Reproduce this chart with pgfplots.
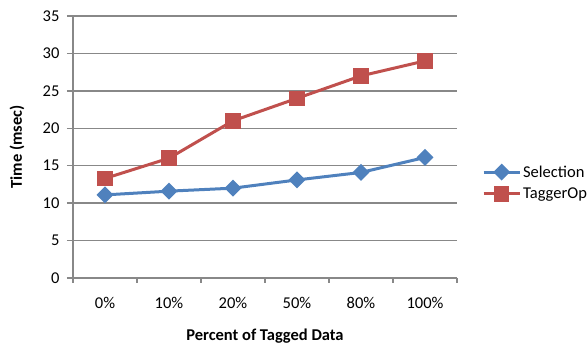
\documentclass[border=0pt]{standalone}
\usepackage{pgfplots}
\pgfplotsset{compat=1.18}
\usepackage{fontspec}
\setmainfont{Carlito}

\definecolor{selblue}{HTML}{4F81BD}
\definecolor{tagred}{HTML}{C0504D}
\definecolor{axgray}{HTML}{888888}

\begin{document}
\begin{tikzpicture}
\path[use as bounding box, clip] (0,0) rectangle (587pt,347pt);
\begin{axis}[
  at={(73pt,69pt)}, anchor=south west,
  scale only axis, width=384pt, height=262pt,
  font=\fontsize{16.5}{19}\selectfont,
  /pgf/number format/assume math mode=true,
  xmin=-0.5, xmax=5.5, ymin=0, ymax=35,
  ytick={0,5,...,35},
  xtick={0,...,5},
  xticklabels={0\%,10\%,20\%,50\%,80\%,100\%},
  minor xtick={-0.5,0.5,...,5.5},
  axis x line*=bottom, axis y line*=left,
  axis line style={axgray, line width=1.3pt, -},
  ymajorgrids, grid style={axgray, line width=1.3pt},
  tick style={axgray, line width=1.3pt},
  tick align=outside,
  major x tick style={draw=none},
  minor tick length=5pt, major tick length=6pt,
  xticklabel style={yshift=-10pt},
  yticklabel style={xshift=-4pt},
  xlabel={\textbf{Percent of Tagged Data}},
  ylabel={\textbf{Time (msec)}},
  xlabel style={at={(axis description cs:0.5,-0.222)}, anchor=center},
  ylabel style={at={(axis description cs:-0.146,0.5)}, anchor=center},
  legend style={at={(axis description cs:1.065,0.363)}, anchor=west,
    draw=none, fill=none, row sep=9pt, column sep=0pt, inner sep=0pt,
    nodes={inner xsep=2pt, inner ysep=0pt},
    font=\fontsize{16.5}{19}\selectfont, cells={anchor=west}},
  legend image code/.code={
    \draw[mark repeat=2, mark phase=2, #1]
      plot coordinates {(0pt,0pt) (18pt,0pt) (36pt,0pt)};
  },
]
\addplot[selblue, line width=3pt, mark=square*,
  mark options={rotate=45, solid}, mark size=4.5pt]
  coordinates {(0,11.1) (1,11.6) (2,12.0) (3,13.1) (4,14.1) (5,16.1)};
\addlegendentry{Selection}
\addplot[tagred, line width=3pt, mark=square*,
  mark options={solid}, mark size=6.3pt]
  coordinates {(0,13.3) (1,16.0) (2,21.0) (3,24.0) (4,27.0) (5,29.0)};
\addlegendentry{TaggerOp}
\end{axis}
\end{tikzpicture}
\end{document}
